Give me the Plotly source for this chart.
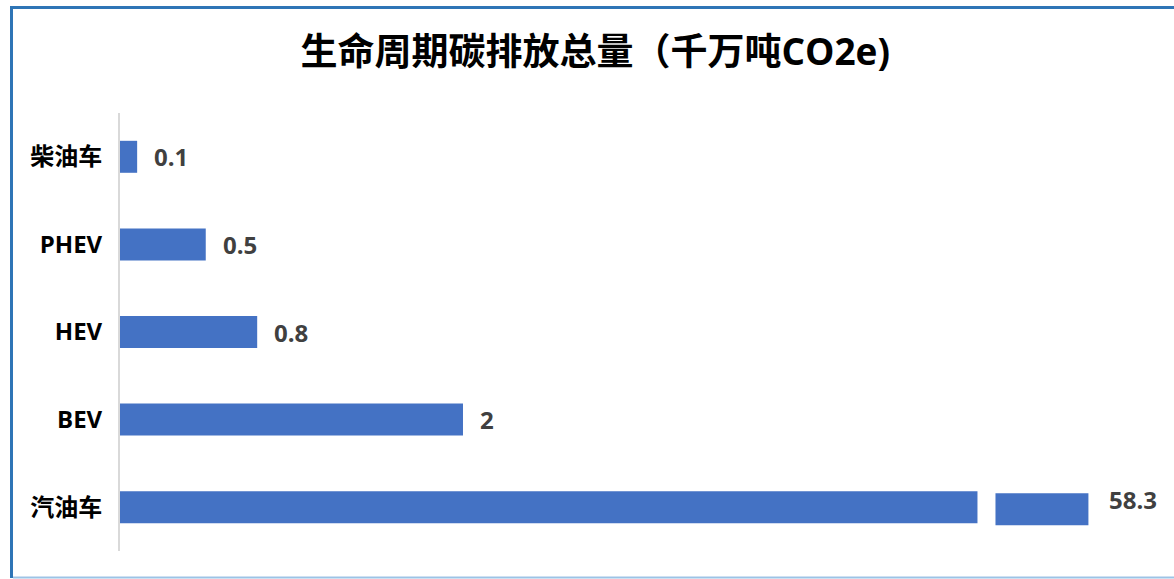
import plotly.graph_objects as go

# ---- data ----
categories = ["汽油车", "BEV", "HEV", "PHEV", "柴油车"]   # bottom -> top
values = [58.3, 2, 0.8, 0.5, 0.1]
title_text = "生命周期碳排放总量（千万吨CO2e)"

# ---- style / axis-break settings ----
BAR_COLOR = "#4472C4"
AXIS_MAX = 6.146          # visible range of the value axis
BREAK_AT = 5.0            # values above this are drawn with a broken bar
TAIL_GAP = 0.105          # gap between the two pieces of a broken bar
TAIL_LEN = 0.542          # length of the tail piece
FONT = "Open Sans, Noto Sans CJK SC, sans-serif"

broken = [v > BREAK_AT for v in values]
main_x = [min(v, BREAK_AT) for v in values]

fig = go.Figure()

fig.add_trace(go.Bar(
    y=categories, x=main_x, orientation="h",
    marker=dict(color=BAR_COLOR, line=dict(width=0)),
    width=0.365, hoverinfo="skip", showlegend=False,
))

tail_y = [c for c, b in zip(categories, broken) if b]
fig.add_trace(go.Bar(
    y=tail_y, x=[TAIL_LEN] * len(tail_y), base=[BREAK_AT + TAIL_GAP] * len(tail_y),
    orientation="h", yaxis="y2",
    marker=dict(color=BAR_COLOR, line=dict(width=0)),
    width=0.365, hoverinfo="skip", showlegend=False,
))

annotations = []
for c, v, b in zip(categories, values, broken):
    end = (BREAK_AT + TAIL_GAP + TAIL_LEN) if b else v
    annotations.append(dict(
        x=end, y=c, xref="x", yref="y", text=f"{v:g}", showarrow=False,
        xanchor="left", yanchor="middle", xshift=19 if b else 15, yshift=8 if b else 0,
        font=dict(family=FONT, size=24, color="#404040", weight="bold"),
    ))

# frame lines (paper coordinates computed from the margins)
L, R, T, B = 120, 0, 113, 28
W, H = 1174, 579
pw, ph = W - L - R, H - T - B
def px(x): return (x - L) / pw
def py(y): return (H - B - y) / ph

shapes = [
    dict(type="line", xref="paper", yref="paper", x0=px(11.5), x1=px(11.5), y0=py(578), y1=py(7.5),
         line=dict(color="#2E75B6", width=3)),
    dict(type="line", xref="paper", yref="paper", x0=px(10), x1=px(1180), y0=py(7.5), y1=py(7.5),
         line=dict(color="#2E75B6", width=3)),
    dict(type="line", xref="paper", yref="paper", x0=px(13), x1=px(1180), y0=py(577.5), y1=py(577.5),
         line=dict(color="#9DC3E6", width=2)),
]

shift = 2 / (ph / len(categories))
fig.update_layout(
    width=W, height=H,
    margin=dict(l=L, r=R, t=T, b=B),
    paper_bgcolor="white", plot_bgcolor="white",
    title=dict(text=title_text, x=0.507, xref="container", xanchor="center",
               y=1 - 52 / H, yref="container", yanchor="middle",
               font=dict(family=FONT, size=37, color="black", weight="bold")),
    xaxis=dict(range=[0, AXIS_MAX], visible=False, fixedrange=True),
    yaxis=dict(type="category", categoryorder="array", categoryarray=categories,
               range=[-0.5, len(categories) - 0.5],
               showline=True, linecolor="#D9D9D9", linewidth=2, showgrid=False, zeroline=False,
               ticks="", ticklabelstandoff=11,
               tickfont=dict(family=FONT, size=24, color="black", weight="bold")),
    yaxis2=dict(type="category", categoryorder="array", categoryarray=categories,
                overlaying="y", range=[-0.5 + shift, len(categories) - 0.5 + shift],
                visible=False),
    bargap=0.6,
    annotations=annotations,
    shapes=shapes,
)

fig.write_html("out.html")
